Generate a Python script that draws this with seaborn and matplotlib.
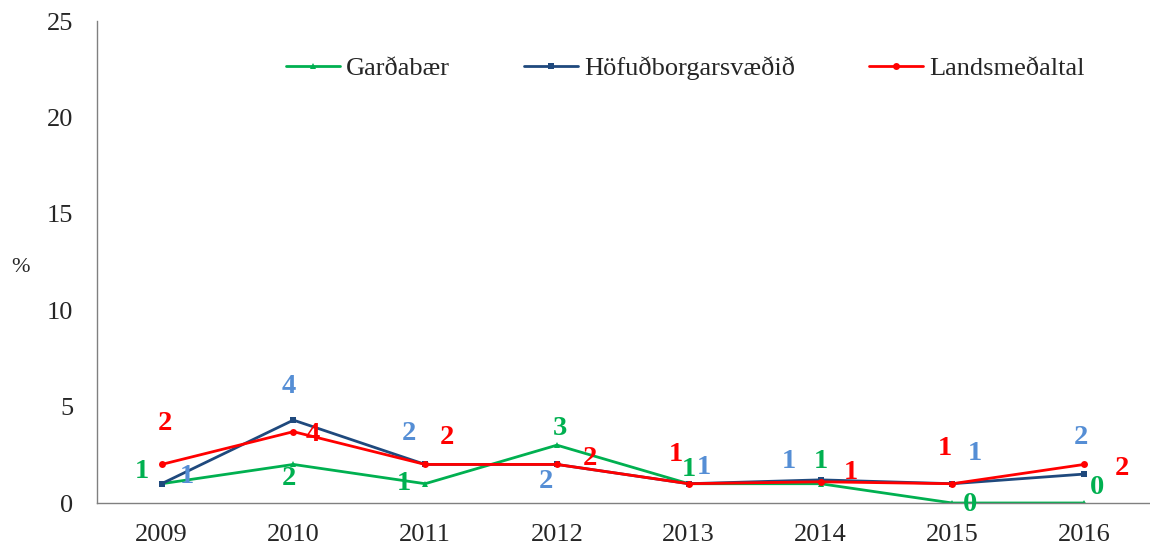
import matplotlib.pyplot as plt
import numpy as np
import pandas as pd
import seaborn as sns

years = ["2009", "2010", "2011", "2012", "2013", "2014", "2015", "2016"]
gardabaer = [1.0, 2.0, 1.0, 3.0, 1.0, 1.0, 0.0, 0.0]
hofudborg = [1.0, 4.3, 2.0, 2.0, 1.0, 1.2, 1.0, 1.5]
landsmedaltal = [2.0, 3.7, 2.0, 2.0, 1.0, 1.1, 1.0, 2.0]

series_names = ["Garðabær", "Höfuðborgarsvæðið", "Landsmeðaltal"]
line_colors = ["#00B050", "#1F497D", "#FF0000"]
label_colors = ["#00B050", "#558ED5", "#FF0000"]
markers = ["^", "s", "o"]

# label offsets in points (dx, dy) per series, like Excel's label placement
label_offsets = [
    [(-14.5, 8.5), (-3, -10), (-15, 0), (2.5, 12), (0, 10), (0.5, 16), (13, -1), (9.5, 11)],
    [(18, 5), (-3, 24.5), (-12, 22), (-8, -12), (11, 11.5), (-23, 13), (16, 21.5), (-2, 26)],
    [(2.5, 29.5), (14, -2), (16, 19.5), (23.5, 4), (-9.5, 21), (21.5, 6.5), (-5, 25), (27, -3)],
]

sns.set_style("white")
plt.rcParams["font.family"] = ["Liberation Serif", "DejaVu Serif"]

df = pd.DataFrame({
    "x": np.tile(np.arange(len(years)), 3),
    "value": gardabaer + hofudborg + landsmedaltal,
    "series": np.repeat(series_names, len(years)),
})

fig = plt.figure(figsize=(11.5, 5.47), dpi=100)
ax = fig.add_axes([97 / 1150, 44 / 547, 1 - 97 / 1150, (503 - 21) / 547])

sns.lineplot(data=df, x="x", y="value", hue="series", style="series",
             palette=dict(zip(series_names, line_colors)),
             markers=dict(zip(series_names, markers)),
             dashes=False, linewidth=2.0, markersize=5, markeredgewidth=0,
             ax=ax)

for vals, offs, col in zip([gardabaer, hofudborg, landsmedaltal], label_offsets, label_colors):
    for i, (v, off) in enumerate(zip(vals, offs)):
        ax.annotate(f"{v:.0f}", (i, v), xytext=off, textcoords="offset points",
                    ha="center", va="center", color=col, fontsize=20.5,
                    fontweight="bold")

ax.set_xlim(-0.49, 7.43)
ax.set_ylim(0, 25)
ax.set_yticks([0, 5, 10, 15, 20, 25])
ax.set_xticks(np.arange(len(years)))
ax.set_xticklabels(years)
ax.set_xticks(np.arange(len(years)) + 0.5, minor=True)
ax.tick_params(axis="x", which="major", length=0, pad=15, labelsize=19)
ax.tick_params(axis="x", which="minor", length=7, color="#808080", direction="out")
ax.tick_params(axis="y", length=6, color="#808080", direction="out", labelsize=19, pad=11)
ax.set_xlabel("")
ax.set_ylabel("%", rotation=0, fontsize=16, va="center", ha="center")
ax.yaxis.set_label_coords((21 - 97) / (1150 - 97), (503 - 267) / (503 - 21))

for s in ["top", "right"]:
    ax.spines[s].set_visible(False)
for s in ["left", "bottom"]:
    ax.spines[s].set_color("#808080")
    ax.spines[s].set_linewidth(1.0)

ax.legend(loc="center left", bbox_to_anchor=(286 / 1150, 1 - 68 / 547),
          bbox_transform=fig.transFigure, ncol=3, frameon=False, borderpad=0,
          borderaxespad=0, fontsize=19, handlelength=2.05, handletextpad=0.23,
          columnspacing=2.8)

fig.savefig("out.png", dpi=100)
